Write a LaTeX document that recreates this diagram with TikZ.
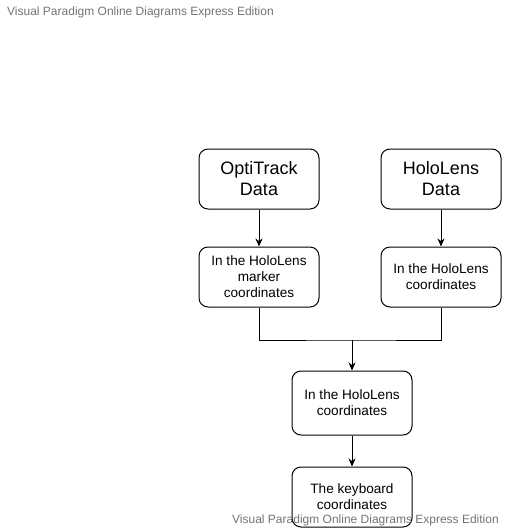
\documentclass[tikz,border=0pt]{standalone}
\usepackage{fontspec}
\setmainfont{Liberation Sans}
\usetikzlibrary{arrows.meta}
\begin{document}
\begin{tikzpicture}[x=1pt,y=-1pt,
  box/.style={draw=black,line width=1pt,rounded corners=9pt,minimum width=120pt,align=center,inner sep=0pt},
  big/.style={font=\fontsize{18}{21}\selectfont},
  small/.style={font=\fontsize{13.6}{16}\selectfont},
  wm/.style={font=\fontsize{12}{14}\selectfont,text=black!55,inner sep=0pt},
  arr/.style={line width=1pt,-{Stealth[length=8pt,width=7pt]}},
  ln/.style={line width=1pt}]
\useasboundingbox (0,0) rectangle (504,530);
\node[wm,anchor=west] (wm1) at (7,12) {Visual Paradigm Online Diagrams Express Edition};
\node[box,big,minimum height=60pt] (opt) at (259,179) {OptiTrack\\Data};
\node[box,big,minimum height=60pt] (holo) at (441,179) {HoloLens\\Data};
\node[box,small,minimum height=60pt] (marker) at (259,277) {In the HoloLens\\marker\\coordinates};
\node[box,small,minimum height=60pt] (hcoord) at (441,277) {In the HoloLens\\coordinates};
\node[box,small,minimum height=64pt] (mid) at (352,403) {In the HoloLens\\coordinates};
\node[box,small,minimum height=60pt] (kb) at (352,497) {The keyboard\\coordinates};
\coordinate (j) at (352,340);
\draw[arr] (opt) -- (marker);
\draw[arr] (holo) -- (hcoord);
\draw[ln] (marker.south) |- (j) -| (hcoord.south);
\draw[arr] (j) -- (mid);
\draw[arr] (mid) -- (kb);
\node[wm,anchor=west] (wm2) at (232,520) {Visual Paradigm Online Diagrams Express Edition};
\end{tikzpicture}
\end{document}
